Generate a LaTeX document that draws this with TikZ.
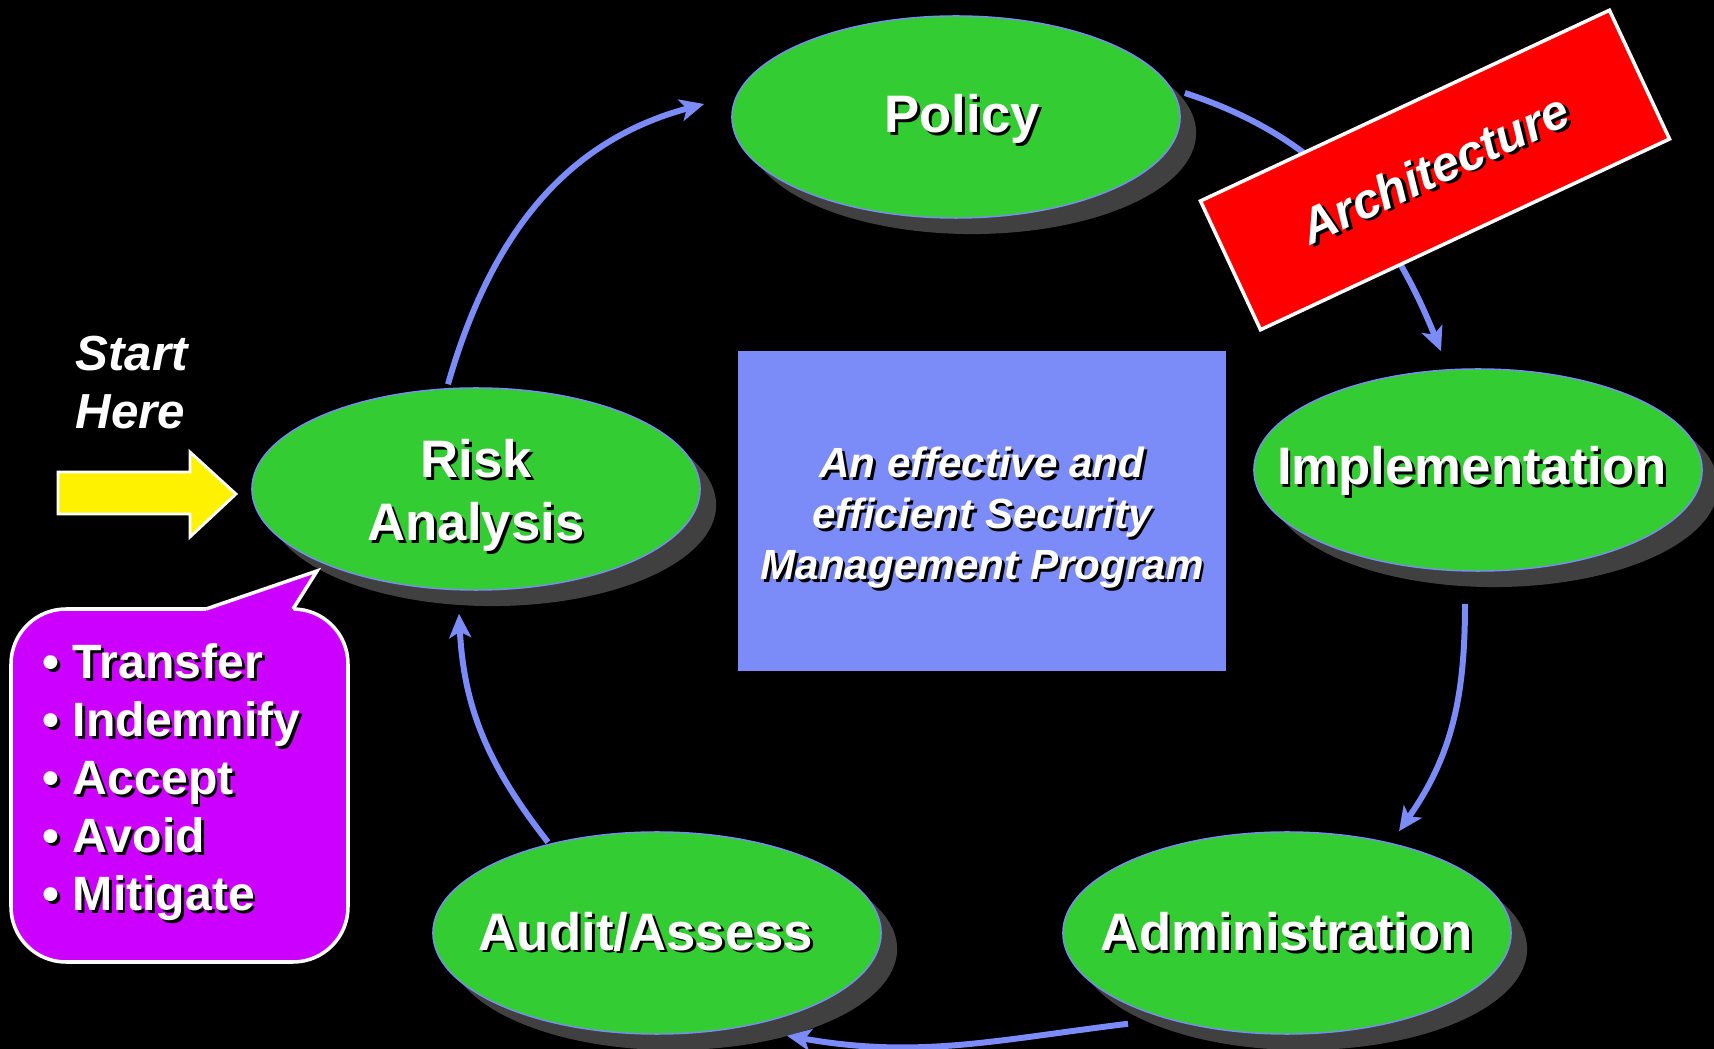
\documentclass[tikz,border=0pt]{standalone}
\usepackage{fontspec}
\setmainfont{Liberation Sans}
\usepackage{tikz}
\usetikzlibrary{shapes.geometric, arrows.meta, calc, shadows}

\definecolor{phasegreen}{HTML}{33CC33}
\definecolor{loopblue}{HTML}{7B8BF8}
\definecolor{shadowgray}{HTML}{404040}
\definecolor{calloutpurple}{HTML}{CC00FF}

% white text with a small black drop shadow
\newcommand{\shtxt}[1]{\rlap{\hspace{0.8pt}\raisebox{-0.8pt}{\color{black}#1}}#1}

\begin{document}
\begin{tikzpicture}[
    x=0.01cm, y=0.01cm,
    phasenode/.style={ellipse, draw=loopblue, line width=0.4pt, fill=phasegreen,
        minimum width=4.48cm, minimum height=2.02cm, inner sep=0pt,
        drop shadow={shadow xshift=0.16cm, shadow yshift=-0.16cm, fill=shadowgray, opacity=1}},
    phasetext/.style={text=white, font=\fontsize{15}{18}\selectfont\bfseries, align=center},
    cyclearrow/.style={draw=loopblue, line width=1.7pt, -{Stealth[length=0.24cm, width=0.22cm, inset=0.06cm]}},
    programbox/.style={rectangle, fill=loopblue, minimum width=4.87cm, minimum height=3.19cm},
    programtext/.style={text=white, align=center, font=\fontsize{12}{14.5}\selectfont\bfseries\itshape},
    archbox/.style={rectangle, fill=red, draw=white, line width=1pt, minimum width=4.51cm, minimum height=1.42cm,
        text=white, font=\fontsize{14}{17}\selectfont\bfseries\itshape},
    plaintext/.style={text=white, align=left, inner sep=0pt, font=\fontsize{13.7}{16.5}\selectfont\bfseries}
]
    \useasboundingbox (0,0) rectangle (1714,-1049);
    \fill[black] (0,0) rectangle (1714,-1049);

    % start arrow
    \draw[fill=yellow, draw=white, line width=0.8pt] (58,-472) -- (190,-472) -- (190,-452) -- (236,-494)
        -- (190,-537) -- (190,-514) -- (58,-514) -- cycle;
    \node[plaintext, anchor=west, font=\fontsize{14}{16.5}\selectfont\bfseries\itshape] (start) at (75,-384)
        {\shtxt{Start}\\\shtxt{Here}};

    % phases
    \node[phasenode, label={[phasetext, xshift=0.06cm, yshift=-0.03cm]center:\shtxt{Policy}}] (policy) at (956,-117) {};
    \node[phasenode, label={[phasetext, xshift=-0.06cm, yshift=-0.02cm]center:\shtxt{Implementation}}] (impl) at (1478,-470) {};
    \node[phasenode, label={[phasetext]center:\shtxt{Administration}}] (admin) at (1287,-933) {};
    \node[phasenode, label={[phasetext, xshift=-0.11cm]center:\shtxt{Audit/Assess}}] (audit) at (657,-933) {};
    \node[phasenode, label={[phasetext, yshift=-0.08cm]center:\shtxt{Risk}\\\shtxt{Analysis}}] (risk) at (476,-489) {};

    \node[programbox, label={[programtext, yshift=-0.08cm]center:\shtxt{An effective and}\\\shtxt{efficient Security}\\\shtxt{Management Program}}]
        (program) at (982,-511) {};

    % cycle
    \draw[cyclearrow] ($(risk.north)+(-28,3)$) to[out=74, in=195] ($(policy.west)+(-27,13)$);
    \draw[cyclearrow] ($(policy.east)+(4,24)$) to[out=-18, in=112] ($(impl.north)+(-37,17)$);
    \draw[cyclearrow] ($(impl.south)+(-13,-32)$) to[out=-90, in=55] ($(admin.north)+(112,0)$);
    \draw[cyclearrow] ($(admin.south)+(-159,11)$) to[out=187, in=-10] ($(audit.south)+(130,-1)$);
    \draw[cyclearrow] ($(audit.north)+(-109,-11)$) to[out=128, in=-87] ($(risk.south)+(-17,-23)$);

    \node[archbox, rotate=25] (arch) at (1435,-170) {\shtxt{Architecture}};

    % callout
    \draw[fill=calloutpurple, draw=white, line width=1pt, rounded corners=0.55cm] (11,-609) rectangle (348,-962);
    \fill[calloutpurple] (206,-614) -- (206,-609) -- (317,-571) -- (293,-609) -- (295,-614) -- cycle;
    \draw[white, line width=1pt] (206,-609) -- (317,-571) -- (293,-609);
    \node[plaintext, anchor=west] (tips) at (42,-784)
        {\shtxt{• Transfer}\\\shtxt{• Indemnify}\\\shtxt{• Accept}\\\shtxt{• Avoid}\\\shtxt{• Mitigate}};
\end{tikzpicture}
\end{document}
